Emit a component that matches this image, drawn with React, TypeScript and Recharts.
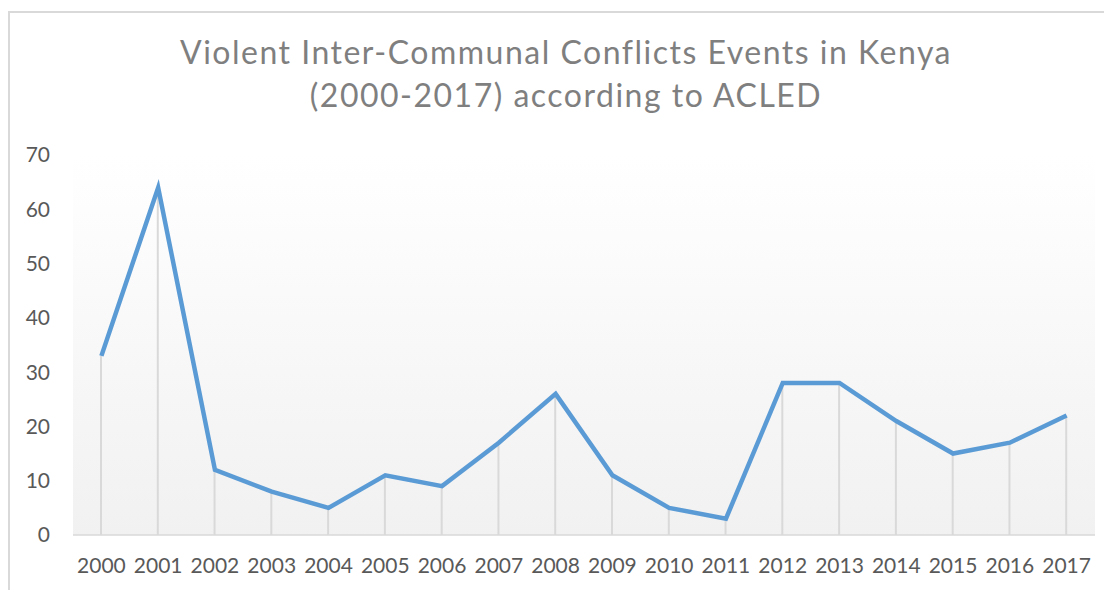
import React from "react";
import {
  Bar,
  CartesianGrid,
  ComposedChart,
  Line,
  XAxis,
  YAxis,
} from "recharts";

const years = [
  "2000", "2001", "2002", "2003", "2004", "2005", "2006", "2007", "2008",
  "2009", "2010", "2011", "2012", "2013", "2014", "2015", "2016", "2017",
];
const events = [33, 64, 12, 8, 5, 11, 9, 17, 26, 11, 5, 3, 28, 28, 21, 15, 17, 22];
const yTicks = [0, 10, 20, 30, 40, 50, 60, 70];

const titleLines = [
  "Violent Inter-Communal Conflicts Events in Kenya",
  "(2000-2017) according to ACLED",
];

const FONT = "Lato, 'Open Sans', sans-serif";

const App: React.FC = () => {
  const data = years.map((year, i) => ({ year, events: events[i] }));

  return (
    <div
      style={{
        position: "relative",
        marginTop: 3,
        width: 1104,
        height: 579,
        borderTop: "2px solid #d9d9d9",
        borderLeft: "2px solid #d9d9d9",
        boxSizing: "border-box",
        background: "#fff",
        fontFamily: FONT,
      }}
    >
      <div
        style={{
          position: "absolute",
          left: 0,
          top: 17,
          width: 1112,
          textAlign: "center",
          color: "#7f7f7f",
          fontSize: 32,
          letterSpacing: 1.5,
          lineHeight: "43px",
        }}
      >
        {titleLines.map((t) => (
          <div key={t}>{t}</div>
        ))}
      </div>
      <div style={{ position: "absolute", left: -2, top: -2 }}>
        <ComposedChart
          width={1104}
          height={579}
          data={data}
          margin={{ top: 144, right: 17, bottom: 25, left: 15 }}
        >
          <defs>
            <linearGradient id="plotBg" x1="0" y1="0" x2="0" y2="1">
              <stop offset="0%" stopColor="#ffffff" />
              <stop offset="100%" stopColor="#f1f1f1" />
            </linearGradient>
          </defs>
          <CartesianGrid
            horizontal={false}
            vertical={false}
            fill="url(#plotBg)"
            fillOpacity={1}
          />
          <XAxis
            dataKey="year"
            height={30}
            tickSize={0}
            tickMargin={23}
            axisLine={{ stroke: "#d9d9d9", strokeWidth: 1.5 }}
            tick={{ fill: "#595959", fontSize: 21, fontFamily: FONT }}
            interval={0}
          />
          <YAxis
            width={50}
            domain={[0, 70]}
            ticks={yTicks}
            axisLine={false}
            tickSize={0}
            tickMargin={23}
            tick={{ fill: "#595959", fontSize: 21, fontFamily: FONT }}
          />
          <Bar
            dataKey="events"
            barSize={2}
            fill="#d9d9d9"
            isAnimationActive={false}
          />
          <Line
            dataKey="events"
            type="linear"
            stroke="#5b9bd5"
            strokeWidth={4.5}
            dot={false}
            activeDot={false}
            isAnimationActive={false}
          />
        </ComposedChart>
      </div>
    </div>
  );
};

export default App;
